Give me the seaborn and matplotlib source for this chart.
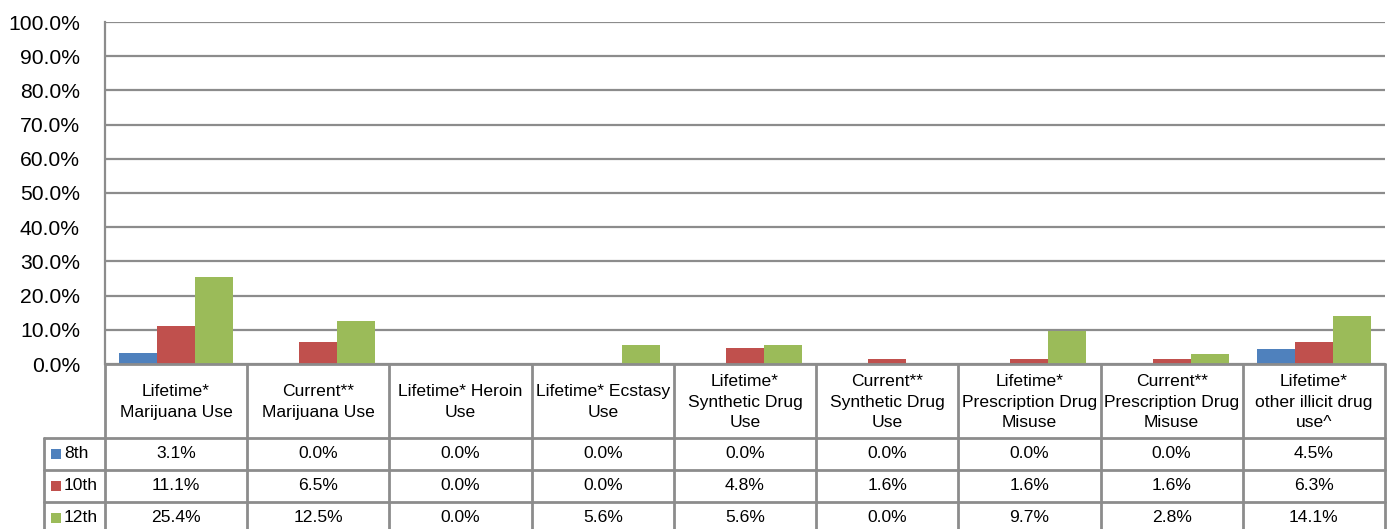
import numpy as np
import pandas as pd
import matplotlib
matplotlib.use("Agg")
import matplotlib.pyplot as plt
import seaborn as sns
from matplotlib import font_manager
from matplotlib.lines import Line2D
from matplotlib.patches import Rectangle

# ---------------- data ----------------
categories = [
    "Lifetime*\nMarijuana Use",
    "Current**\nMarijuana Use",
    "Lifetime* Heroin\nUse",
    "Lifetime* Ecstasy\nUse",
    "Lifetime*\nSynthetic Drug\nUse",
    "Current**\nSynthetic Drug\nUse",
    "Lifetime*\nPrescription Drug\nMisuse",
    "Current**\nPrescription Drug\nMisuse",
    "Lifetime*\nother illicit drug\nuse^",
]
grades = ["8th", "10th", "12th"]
vals_8th = [3.1, 0.0, 0.0, 0.0, 0.0, 0.0, 0.0, 0.0, 4.5]
vals_10th = [11.1, 6.5, 0.0, 0.0, 4.8, 1.6, 1.6, 1.6, 6.3]
vals_12th = [25.4, 12.5, 0.0, 5.6, 5.6, 0.0, 9.7, 2.8, 14.1]
y_ticks = [0.0, 0.1, 0.2, 0.3, 0.4, 0.5, 0.6, 0.7, 0.8, 0.9, 1.0]
colors = ["#4F81BD", "#C0504D", "#9BBB59"]

series = [vals_8th, vals_10th, vals_12th]
df = pd.DataFrame({
    "category": categories * len(grades),
    "grade": np.repeat(grades, len(categories)),
    "value": np.concatenate(series) / 100.0,
})

# ---------------- style ----------------
sns.set_theme(style="white")
names = {f.name for f in font_manager.fontManager.ttflist}
narrow = "Liberation Sans Narrow" in names
fam = "Liberation Sans Narrow" if narrow else "Liberation Sans"
plt.rcParams["font.family"] = [fam, "DejaVu Sans"]
fs_tick = 17 if narrow else 15.2
fs_tab = 14 if narrow else 12.6
grid_c = "#8C8C8C"

W, H = 1390, 529
fig = plt.figure(figsize=(W / 100, H / 100), dpi=100)
fig.patch.set_facecolor("white")

x0, x1 = 105, 1385
y_top, y_bot = 22, 364
ax = fig.add_axes([x0 / W, 1 - y_bot / H, (x1 - x0) / W, (y_bot - y_top) / H])

sns.barplot(data=df, x="category", y="value", hue="grade", palette=colors,
            width=0.8, gap=0, saturation=1, errorbar=None, legend=False,
            linewidth=0, ax=ax)

ax.set_xlim(-0.5, len(categories) - 0.5)
ax.set_ylim(0, 1)
ax.set_yticks(y_ticks)
ax.set_yticklabels([f"{t:.1%}" for t in y_ticks])
ax.set_xticks([])
ax.set_xlabel("")
ax.set_ylabel("")
ax.tick_params(axis="y", length=0, pad=18, labelsize=fs_tick, labelcolor="black")
ax.yaxis.grid(True, color=grid_c, lw=1.6)
ax.set_axisbelow(True)
for s in ["top", "right", "bottom"]:
    ax.spines[s].set_visible(False)
ax.spines["left"].set_color(grid_c)
ax.spines["left"].set_linewidth(1.6)

# ---------------- data table ----------------
tab = fig.add_axes([0, 0, 1, 1])
tab.set_xlim(0, W)
tab.set_ylim(H, 0)
tab.axis("off")

ncol = len(categories)
colw = (x1 - x0) / ncol
leg_x = 44
y_head = 438
row_h = 32
row_lines = [y_head + i * row_h for i in range(len(grades) + 1)]
lw = 2

def hline(y, xa, xb):
    tab.add_line(Line2D([xa, xb], [y, y], color=grid_c, lw=lw))

def vline(x, ya, yb):
    tab.add_line(Line2D([x, x], [ya, yb], color=grid_c, lw=lw))

hline(y_bot, x0, x1)
for y in row_lines[:-1]:
    hline(y, leg_x, x1)
for k in range(ncol + 1):
    vline(x0 + k * colw, y_bot, H + 10)
vline(leg_x, y_head, H + 10)

for k, cat in enumerate(categories):
    cx = x0 + (k + 0.5) * colw
    tab.text(cx, (y_bot + y_head) / 2 + 1, cat, ha="center", va="center",
             fontsize=fs_tab, color="black", linespacing=1.45)
    for i, vals in enumerate(series):
        cy = row_lines[i] + row_h / 2
        tab.text(cx, cy, f"{vals[k]:.1f}%", ha="center", va="center",
                 fontsize=fs_tab, color="black")

for i, g in enumerate(grades):
    cy = row_lines[i] + row_h / 2
    tab.add_patch(Rectangle((51, cy - 5), 10, 10, color=colors[i], lw=0))
    tab.text(64, cy, g, ha="left", va="center", fontsize=fs_tab, color="black")

fig.savefig("out.png", dpi=100, facecolor="white")
